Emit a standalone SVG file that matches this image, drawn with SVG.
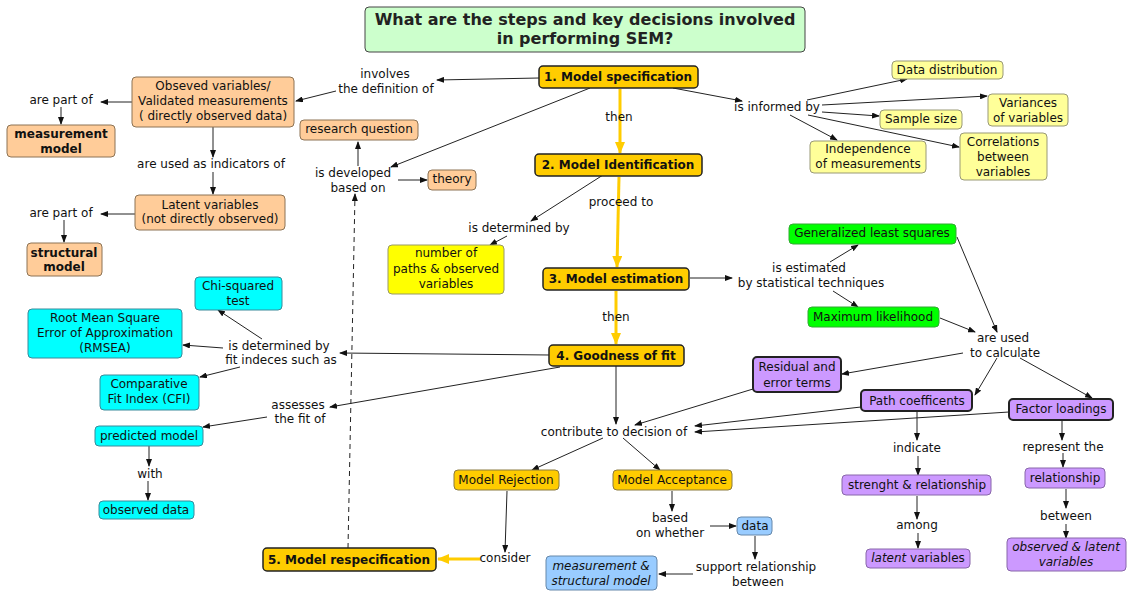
<svg xmlns="http://www.w3.org/2000/svg" width="1145" height="595" viewBox="0 0 1145 595">
<style>
text{font-family:"DejaVu Sans",Verdana,sans-serif;font-size:12px;text-anchor:middle;fill:#111}
.b{font-weight:bold}
.i{font-style:italic}
.title{font-size:16px;font-weight:bold;fill:#222}
.step rect{fill:#ffcc00;stroke:#222;stroke-width:1.5}
.peach rect{fill:#ffcc99;stroke:#8c7355;stroke-width:1}
.yel rect{fill:#ffff00;stroke:#999966;stroke-width:1}
.ly rect{fill:#ffff99;stroke:#999977;stroke-width:1}
.grn rect{fill:#00ff00;stroke:#33aa33;stroke-width:1}
.pur rect{fill:#cc99ff;stroke:#222;stroke-width:2}
.pl rect{fill:#cc99ff;stroke:#8866aa;stroke-width:1}
.cy rect{fill:#00ffff;stroke:#3a8a9a;stroke-width:1}
.or rect{fill:#ffcc00;stroke:#8a7a40;stroke-width:1}
.lb rect{fill:#99ccff;stroke:#6688aa;stroke-width:1}
.c path{fill:none;stroke:#222;stroke-width:1;marker-end:url(#a)}
.c path.y{stroke:#ffcc00;stroke-width:3;marker-end:url(#ay)}
.c path.d{stroke-dasharray:5,4}
</style>
<defs>
<marker id="a" markerUnits="userSpaceOnUse" markerWidth="8" markerHeight="6" refX="7" refY="3" orient="auto"><path d="M0,0 L8,3 L0,6 z" fill="#111"/></marker>
<marker id="ay" markerUnits="userSpaceOnUse" markerWidth="12" markerHeight="10" refX="11" refY="5" orient="auto"><path d="M0,0 L12,5 L0,10 z" fill="#ffcc00"/></marker>
</defs>
<rect width="1145" height="595" fill="#ffffff"/>

<g id="title"><rect x="365" y="7" width="440" height="45" rx="4" fill="#ccffcc" stroke="#444" stroke-width="1"/>
<text class="title" x="585" y="25">What are the steps and key decisions involved</text>
<text class="title" x="585" y="44">in performing SEM?</text></g>

<g class="c" id="connectors">
<path d="M539,78 L437,80"/>
<path d="M336,91 L296,101"/>
<path d="M132,102 L101,102"/>
<path d="M61,107 L61,124"/>
<path d="M213,127 L213,157"/>
<path d="M213,172 L213,194"/>
<path d="M135,214 L101,214"/>
<path d="M64,220 L64,242"/>
<path d="M590,88 L391,167"/>
<path d="M358,166 L358,142"/>
<path d="M398,180 L427,180"/>
<path class="d" d="M348,548 L355,194"/>
<path class="y" d="M620,89 L620,153"/>
<path class="y" d="M619,177 L617,267"/>
<path class="y" d="M616,291 L616,344"/>
<path class="y" d="M481,559 L438,559"/>
<path d="M603,175 L531,221"/>
<path d="M507,236 L490,245"/>
<path d="M673,88 L742,101"/>
<path d="M807,100 L907,79"/>
<path d="M822,105 L987,96"/>
<path d="M822,112 L879,116"/>
<path d="M790,115 L837,140"/>
<path d="M808,115 L959,147"/>
<path d="M690,278 L732,278"/>
<path d="M830,262 L858,245"/>
<path d="M833,291 L858,307"/>
<path d="M957,237 L997,332"/>
<path d="M940,318 L975,332"/>
<path d="M963,353 L842,374"/>
<path d="M997,358 L975,395"/>
<path d="M1020,358 L1092,398"/>
<path d="M753,389 L635,425"/>
<path d="M861,407 L695,426"/>
<path d="M1009,412 L695,432"/>
<path d="M616,366 L616,424"/>
<path d="M550,355 L340,353"/>
<path d="M262,339 L218,310"/>
<path d="M223,348 L183,345"/>
<path d="M240,367 L200,377"/>
<path d="M560,367 L330,407"/>
<path d="M267,417 L203,427"/>
<path d="M149,446 L149,466"/>
<path d="M148,481 L148,500"/>
<path d="M603,438 L532,470"/>
<path d="M623,438 L660,470"/>
<path d="M507,491 L505,552"/>
<path d="M672,491 L672,511"/>
<path d="M710,526 L736,526"/>
<path d="M755,536 L755,559"/>
<path d="M693,574 L659,574"/>
<path d="M917,411 L917,440"/>
<path d="M918,456 L918,475"/>
<path d="M917,496 L917,519"/>
<path d="M918,533 L918,548"/>
<path d="M1062,421 L1062,440"/>
<path d="M1063,453 L1063,467"/>
<path d="M1066,489 L1066,508"/>
<path d="M1066,524 L1066,538"/>
</g>

<g id="labels">
<text x="385" y="78">involves</text>
<text x="386" y="93">the definition of</text>
<text x="61" y="104">are part of</text>
<text x="211" y="168">are used as indicators of</text>
<text x="61" y="217">are part of</text>
<text x="353" y="177">is developed</text>
<text x="358" y="192">based on</text>
<text x="619" y="121">then</text>
<text x="621" y="206">proceed to</text>
<text x="519" y="232">is determined by</text>
<text x="777" y="111">is informed by</text>
<text x="809" y="272">is estimated</text>
<text x="811" y="287">by statistical techniques</text>
<text x="616" y="321">then</text>
<text x="1003" y="342">are used</text>
<text x="1005" y="357">to calculate</text>
<text x="279" y="350">is determined by</text>
<text x="281" y="364">fit indeces such as</text>
<text x="298" y="409">assesses</text>
<text x="300" y="423">the fit of</text>
<text x="150" y="478">with</text>
<text x="614" y="436">contribute to decision of</text>
<text x="670" y="522">based</text>
<text x="670" y="537">on whether</text>
<text x="505" y="562">consider</text>
<text x="756" y="571">support relationship</text>
<text x="758" y="586">between</text>
<text x="917" y="452">indicate</text>
<text x="917" y="529">among</text>
<text x="1063" y="451">represent the</text>
<text x="1066" y="520">between</text>
</g>

<g id="n1" class="step"><rect x="539" y="66" width="159" height="22" rx="4"/><text class="b" x="618" y="81">1. Model specification</text></g>
<g id="n2" class="step"><rect x="535" y="154" width="167" height="22" rx="4"/><text class="b" x="618" y="169">2. Model Identification</text></g>
<g id="n3" class="step"><rect x="543" y="268" width="146" height="22" rx="4"/><text class="b" x="616" y="283">3. Model estimation</text></g>
<g id="n4" class="step"><rect x="549" y="345" width="135" height="21" rx="4"/><text class="b" x="616" y="360">4. Goodness of fit</text></g>
<g id="n5" class="step"><rect x="263" y="548" width="173" height="23" rx="4"/><text class="b" x="349" y="564">5. Model respecification</text></g>

<g id="observed" class="peach"><rect x="132" y="77" width="162" height="50" rx="4"/><text x="213" y="90">Obseved variables/</text><text x="213" y="105">Validated measurements</text><text x="213" y="120">( directly observed data)</text></g>
<g id="measurement" class="peach"><rect x="7" y="125" width="108" height="32" rx="4"/><text class="b" x="61" y="138">measurement</text><text class="b" x="61" y="153">model</text></g>
<g id="latent" class="peach"><rect x="135" y="195" width="150" height="35" rx="4"/><text x="210" y="209">Latent variables</text><text x="210" y="223">(not directly observed)</text></g>
<g id="structural" class="peach"><rect x="27" y="243" width="75" height="33" rx="4"/><text class="b" x="64" y="257">structural</text><text class="b" x="64" y="271">model</text></g>
<g id="research" class="peach"><rect x="300" y="120" width="118" height="20" rx="4"/><text x="359" y="133">research question</text></g>
<g id="theory" class="peach"><rect x="428" y="170" width="48" height="20" rx="4"/><text x="452" y="183">theory</text></g>

<g id="npaths" class="yel"><rect x="388" y="245" width="116" height="49" rx="4"/><text x="446" y="257">number of</text><text x="446" y="273">paths &amp; observed</text><text x="446" y="288">variables</text></g>

<g id="datadist" class="ly"><rect x="892" y="61" width="111" height="18" rx="4"/><text x="947" y="74">Data distribution</text></g>
<g id="variances" class="ly"><rect x="988" y="94" width="80" height="32" rx="4"/><text x="1028" y="107">Variances</text><text x="1028" y="122">of variables</text></g>
<g id="sample" class="ly"><rect x="880" y="110" width="82" height="19" rx="4"/><text x="921" y="123">Sample size</text></g>
<g id="independence" class="ly"><rect x="810" y="141" width="116" height="32" rx="4"/><text x="868" y="153">Independence</text><text x="868" y="168">of measurements</text></g>
<g id="correlations" class="ly"><rect x="960" y="133" width="87" height="47" rx="4"/><text x="1003" y="146">Correlations</text><text x="1003" y="161">between</text><text x="1003" y="176">variables</text></g>

<g id="gls" class="grn"><rect x="789" y="224" width="167" height="20" rx="4"/><text x="872" y="237">Generalized least squares</text></g>
<g id="ml" class="grn"><rect x="808" y="307" width="131" height="20" rx="4"/><text x="873" y="321">Maximum likelihood</text></g>

<g id="residual" class="pur"><rect x="753" y="357" width="88" height="35" rx="4"/><text x="797" y="371">Residual and</text><text x="797" y="387">error terms</text></g>
<g id="pathcoef" class="pur"><rect x="861" y="390" width="111" height="21" rx="4"/><text x="917" y="405">Path coefficents</text></g>
<g id="factor" class="pur"><rect x="1009" y="399" width="104" height="21" rx="4"/><text x="1061" y="413">Factor loadings</text></g>
<g id="strength" class="pl"><rect x="842" y="475" width="149" height="20" rx="4"/><text x="917" y="489">strenght &amp; relationship</text></g>
<g id="relationship" class="pl"><rect x="1025" y="468" width="80" height="20" rx="4"/><text x="1065" y="482">relationship</text></g>
<g id="latentvars" class="pl"><rect x="866" y="549" width="104" height="19" rx="4"/><text x="918" y="562"><tspan class="i">latent</tspan> variables</text></g>
<g id="obslatent" class="pl"><rect x="1007" y="538" width="119" height="33" rx="4"/><text class="i" x="1066" y="551">observed &amp; latent</text><text class="i" x="1066" y="566">variables</text></g>

<g id="chi" class="cy"><rect x="195" y="277" width="87" height="33" rx="4"/><text x="238" y="290">Chi-squared</text><text x="238" y="305">test</text></g>
<g id="rmsea" class="cy"><rect x="28" y="309" width="154" height="49" rx="4"/><text x="105" y="322">Root Mean Square</text><text x="105" y="337">Error of Approximation</text><text x="105" y="352">(RMSEA)</text></g>
<g id="cfi" class="cy"><rect x="100" y="375" width="99" height="35" rx="4"/><text x="149" y="388">Comparative</text><text x="149" y="403">Fit Index (CFI)</text></g>
<g id="predicted" class="cy"><rect x="95" y="426" width="108" height="20" rx="4"/><text x="149" y="440">predicted model</text></g>
<g id="obsdata" class="cy"><rect x="99" y="501" width="95" height="18" rx="4"/><text x="146" y="514">observed data</text></g>

<g id="rejection" class="or"><rect x="454" y="470" width="105" height="20" rx="4"/><text x="506" y="484">Model Rejection</text></g>
<g id="acceptance" class="or"><rect x="613" y="470" width="119" height="20" rx="4"/><text x="672" y="484">Model Acceptance</text></g>
<g id="data" class="lb"><rect x="737" y="517" width="35" height="18" rx="4"/><text x="755" y="530">data</text></g>
<g id="msmodel" class="lb"><rect x="546" y="556" width="111" height="34" rx="4"/><text class="i" x="601" y="570">measurement &amp;</text><text class="i" x="601" y="585">structural model</text></g>
</svg>
